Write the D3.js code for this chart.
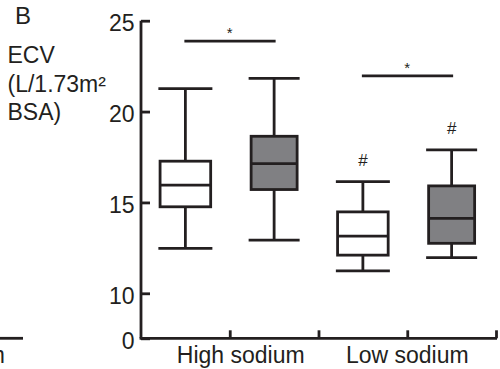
<!DOCTYPE html>
<html><head><meta charset="utf-8">
<script src="https://cdn.jsdelivr.net/npm/d3@7"></script>
<style>body{margin:0;background:#fff}svg{display:block}text{font-family:"Liberation Sans",Arial,Helvetica,sans-serif;fill:#231f20}</style>
</head><body>
<script>
// ---- data ----
const categories = ["High sodium", "Low sodium"];
const seriesNames = ["Group 1", "Group 2"];
// [lower whisker, Q1, median, Q3, upper whisker] per category
const series1 = [[12.47, 14.76, 15.95, 17.27, 21.26], [11.23, 12.1, 13.15, 14.48, 16.15]];
const series2 = [[12.93, 15.71, 17.14, 18.64, 21.83], [11.96, 12.75, 14.12, 15.91, 17.89]];
const yTicks = [0, 10, 15, 20, 25];
const sigBars = [[0, 23.88, "*"], [1, 21.96, "*"]]; // category, level, label
const hashMarks = [[1, 0, "#"], [1, 1, "#"]]; // category, series, label

const W = 500, H = 369;
const ink = "#231f20", greyFill = "#808083";
const svg = d3.select("body").append("svg").attr("width", W).attr("height", H);

const y = d3.scaleLinear().domain([0, 10, 25]).range([338.3, 293.3, 20.7]);
const x = d3.scaleLinear().domain([0, 4]).range([141, 496]);

// y axis
const yAxis = svg.append("g").attr("transform", "translate(141,0)")
  .call(d3.axisLeft(y).tickValues(yTicks).tickFormat(d3.format("d")).tickSizeInner(-9).tickSizeOuter(0).tickPadding(6.5));
yAxis.selectAll("path,line").attr("stroke", ink).attr("stroke-width", 2.8);
yAxis.selectAll("text").attr("font-size", 23).attr("dy", null).attr("y", 10).style("font-family", '"Liberation Sans",Arial,sans-serif').attr("fill", ink);
yAxis.select(".domain").attr("d", `M0,${y(25)}V${y(0)}`);

// x axis
const xAxis = svg.append("g").attr("transform", `translate(0,${y(0)})`)
  .call(d3.axisBottom(x).tickValues([1, 2, 3, 4]).tickFormat("").tickSizeInner(-8).tickSizeOuter(0));
xAxis.selectAll("path,line").attr("stroke", ink).attr("stroke-width", 2.8);
xAxis.select(".domain").attr("d", `M${x(0) - 1.4},0H${x(4) + 1}`);

// category labels
svg.selectAll("text.cat").data(categories).join("text").attr("class", "cat")
  .attr("x", (d, i) => i === 0 ? x(1) + 11 : x(3))
  .attr("y", 363).attr("text-anchor", "middle").attr("font-size", 23).text(d => d);

// boxes
const boxes = [];
categories.forEach((c, ci) => {
  boxes.push({ci, si: 0, s: series1[ci], pos: ci * 2 + 0.5, half: 25.3, cap: 27, fill: "#fff"});
  boxes.push({ci, si: 1, s: series2[ci], pos: ci * 2 + 1.5, half: 23, cap: 25.5, fill: greyFill});
});
const g = svg.append("g").attr("stroke", ink).attr("stroke-width", 2.8);
boxes.forEach(b => {
  const cx = x(b.pos);
  const [lo, q1, med, q3, hi] = b.s;
  g.append("line").attr("x1", cx).attr("x2", cx).attr("y1", y(hi)).attr("y2", y(q3));
  g.append("line").attr("x1", cx).attr("x2", cx).attr("y1", y(q1)).attr("y2", y(lo));
  g.append("line").attr("x1", cx - b.cap).attr("x2", cx + b.cap).attr("y1", y(hi)).attr("y2", y(hi));
  g.append("line").attr("x1", cx - b.cap).attr("x2", cx + b.cap).attr("y1", y(lo)).attr("y2", y(lo));
  g.append("rect").attr("x", cx - b.half).attr("width", b.half * 2).attr("y", y(q3)).attr("height", y(q1) - y(q3)).attr("fill", b.fill);
  g.append("line").attr("x1", cx - b.half).attr("x2", cx + b.half).attr("y1", y(med)).attr("y2", y(med));
});

// significance bars
sigBars.forEach(([ci, v, lab]) => {
  const x1 = x(ci * 2 + 0.5), x2 = x(ci * 2 + 1.5);
  svg.append("line").attr("x1", x1 - 1).attr("x2", x2 + 1.5).attr("y1", y(v)).attr("y2", y(v)).attr("stroke", ink).attr("stroke-width", 2.8);
  svg.append("text").attr("x", (x1 + x2) / 2).attr("y", y(v) - 3).attr("text-anchor", "middle").attr("font-size", 15).text(lab);
});
// hash marks
hashMarks.forEach(([ci, si, lab]) => {
  const s = si === 0 ? series1[ci] : series2[ci];
  svg.append("text").attr("x", x(ci * 2 + si + 0.5)).attr("y", y(s[4]) - 16).attr("text-anchor", "middle").attr("font-size", 17).text(lab);
});

// panel letter and y label
svg.append("text").attr("x", 15).attr("y", 24).attr("font-size", 24).text("B");
["ECV", "(L/1.73m²", "BSA)"].forEach((t, i) => {
  svg.append("text").attr("x", 7.5).attr("y", 63.3 + i * 28.3).attr("font-size", 23).text(t);
});

// fragment of neighbouring panel
svg.append("line").attr("x1", 0).attr("x2", 23).attr("y1", y(0)).attr("y2", y(0)).attr("stroke", ink).attr("stroke-width", 2.8);
svg.append("text").attr("x", 5).attr("y", 363).attr("text-anchor", "end").attr("font-size", 23).text("Low sodium");
</script>
</body></html>
